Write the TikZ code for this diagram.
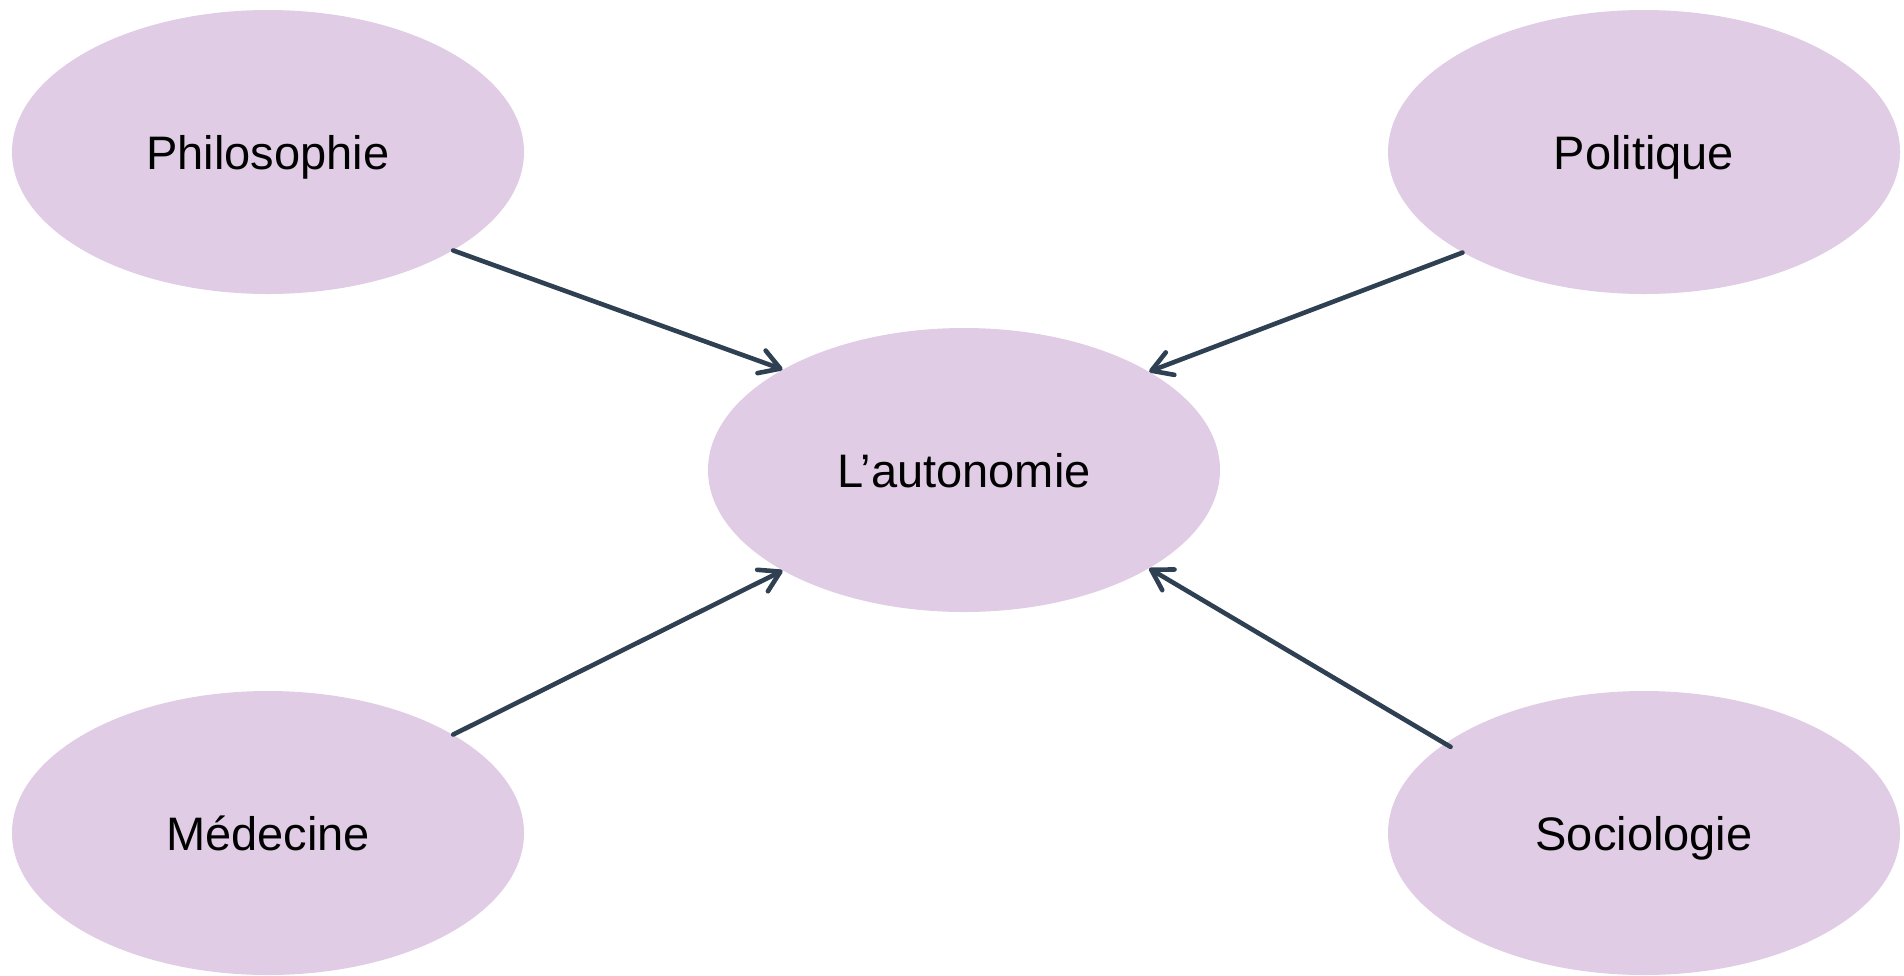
\documentclass[tikz,border=0pt]{standalone}
\usepackage{fontspec}
\setmainfont{Liberation Sans}
\usetikzlibrary{shapes.geometric,arrows.meta,calc}
\definecolor{bubble}{RGB}{224,204,228}
\definecolor{arrowc}{RGB}{46,64,82}
\begin{document}
\begin{tikzpicture}[x=0.5pt,y=-0.5pt,
  bubble/.style={ellipse, fill=bubble, draw=none, minimum width=256pt, minimum height=142pt, inner sep=0pt,
    font=\fontsize{23.5pt}{28pt}\selectfont, text=black, text height=18pt, text depth=1pt},
  link/.style={draw=arrowc, line width=2.3pt, line cap=round,
    -{Straight Barb[length=10pt,width=12pt,round]}}]
\useasboundingbox (0,0) rectangle (1904,975);
\node[bubble] (phil) at (268,152) {Philosophie};
\node[bubble] (pol) at (1644,152) {Politique};
\node[bubble] (aut) at (964,470) {L’autonomie};
\node[bubble] (med) at (268,833) {Médecine};
\node[bubble] (soc) at (1644,833) {Sociologie};
\draw[link] (phil.-28.4) -- (aut.151.5);
\draw[link] (pol.-151.3) -- (aut.28.4);
\draw[link] (med.28.4) -- (aut.-151.7);
\draw[link] ($(soc.center)!0.967!(soc.156.8)$) -- (aut.-28.4);
\end{tikzpicture}
\end{document}
